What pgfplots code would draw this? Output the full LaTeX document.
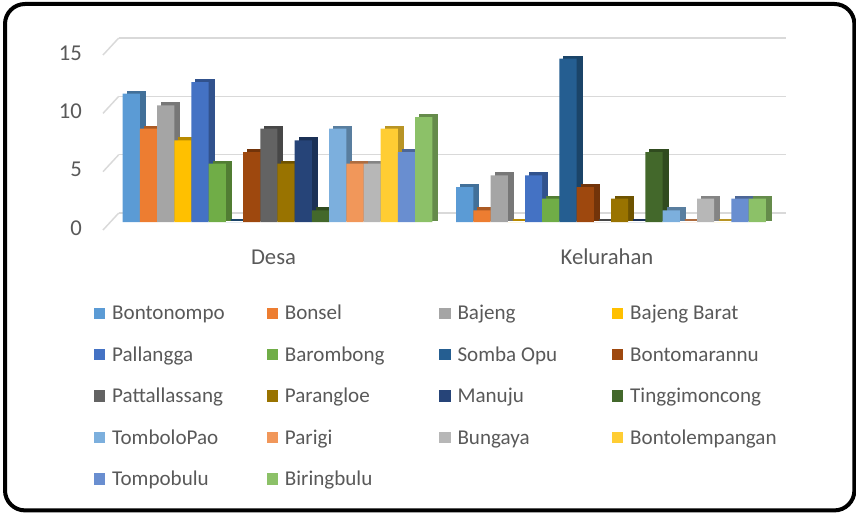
\documentclass[border=0pt]{standalone}
\usepackage{pgfplots}
\pgfplotsset{compat=1.18}
\usepackage{fontspec}
\setmainfont{Carlito}
\definecolor{txt}{HTML}{595959}
\definecolor{gridc}{HTML}{D9D9D9}
\definecolor{c1}{HTML}{5B9BD5}
\definecolor{c2}{HTML}{ED7D31}
\definecolor{c3}{HTML}{A5A5A5}
\definecolor{c4}{HTML}{FFC000}
\definecolor{c5}{HTML}{4472C4}
\definecolor{c6}{HTML}{70AD47}
\definecolor{c7}{HTML}{255E91}
\definecolor{c8}{HTML}{9E480E}
\definecolor{c9}{HTML}{636363}
\definecolor{c10}{HTML}{997300}
\definecolor{c11}{HTML}{264478}
\definecolor{c12}{HTML}{43682B}
\definecolor{c13}{HTML}{7CAFDD}
\definecolor{c14}{HTML}{F1975A}
\definecolor{c15}{HTML}{B7B7B7}
\definecolor{c16}{HTML}{FFCD33}
\definecolor{c17}{HTML}{698ED0}
\definecolor{c18}{HTML}{8CC168}
\pgfplotsset{mylegend/.style={legend image code/.code={\fill[##1,/tikz/.cd] (0pt,0.8pt) rectangle (8.4pt,9.2pt);}}}
% #1 shift index, #2 colour, #3 Desa, #4 Kelurahan, #5 name
\newcommand\drawseries[5]{%
  \addplot[ybar, bar width=12.9pt, bar shift={#1*12.9pt+3.75pt}, yshift=1.5pt,
    fill=#2!72!black, draw=#2!72!black, line width=1.5pt, forget plot] coordinates {(0,#3) (1,#4)};
  \addplot[ybar, bar width=12.9pt, bar shift={#1*12.9pt}, fill=#2, draw=none, mylegend]
    coordinates {(0,#3) (1,#4)};
  \addlegendentry{\makebox[115.85pt][l]{\strut #5}}%
}
\begin{document}
\begin{tikzpicture}
\useasboundingbox (0,0) rectangle (642pt,384pt);
\draw[line width=3pt, rounded corners=15pt] (3.75pt,1.2pt) rectangle (640.8pt,381pt);
\begin{axis}[
  at={(83.06pt,217.5pt)}, anchor=south west,
  scale only axis, width=500.25pt, height=131.25pt,
  xmin=-0.5, xmax=1.5, ymin=0, ymax=15,
  axis x line*=bottom, axis y line*=left,
  axis line style={draw=none},
  xtick={0,1}, xticklabels={Desa,Kelurahan},
  ytick={0,5,10,15},
  ymajorgrids,
  major grid style={gridc, line width=1.1pt, xshift=6pt, yshift=6.75pt},
  tick style={draw=none},
  major tick length=0pt,
  /pgf/number format/assume math mode=true,
  yticklabel style={anchor=east, inner sep=0pt, xshift=-21.5pt, yshift=-4.5pt,
    font=\fontsize{17}{20}\selectfont, text=txt},
  xticklabel style={anchor=center, inner sep=0pt, yshift=-26.25pt, xshift=-3pt,
    font=\fontsize{17}{20}\selectfont, text=txt},
  legend columns=4,
  legend style={at={(-0.0251,-0.4575)}, anchor=north west, draw=none, fill=none,
    inner sep=0pt, outer sep=0pt, column sep=0pt, row sep=16.3pt,
    /tikz/every odd column/.append style={column sep=5.25pt},
    nodes={inner sep=0pt, anchor=base west},
    font=\fontsize{15.8}{19}\selectfont, text=txt},
  clip=false,
]
\pgfplotsinvokeforeach{0,5,10,15}{%
  \draw[gridc, line width=1.1pt] ([xshift=-5.8pt,yshift=-6pt]axis cs:-0.5,#1) -- ([xshift=6pt,yshift=6.75pt]axis cs:-0.5,#1);
}
\drawseries{-8.5}{c1}{11}{3}{Bontonompo}
\drawseries{-7.5}{c2}{8}{1}{Bonsel}
\drawseries{-6.5}{c3}{10}{4}{Bajeng}
\drawseries{-5.5}{c4}{7}{0}{Bajeng Barat}
\drawseries{-4.5}{c5}{12}{4}{Pallangga}
\drawseries{-3.5}{c6}{5}{2}{Barombong}
\drawseries{-2.5}{c7}{0}{14}{Somba Opu}
\drawseries{-1.5}{c8}{6}{3}{Bontomarannu}
\drawseries{-0.5}{c9}{8}{0}{Pattallassang}
\drawseries{0.5}{c10}{5}{2}{Parangloe}
\drawseries{1.5}{c11}{7}{0}{Manuju}
\drawseries{2.5}{c12}{1}{6}{Tinggimoncong}
\drawseries{3.5}{c13}{8}{1}{TomboloPao}
\drawseries{4.5}{c14}{5}{0}{Parigi}
\drawseries{5.5}{c15}{5}{2}{Bungaya}
\drawseries{6.5}{c16}{8}{0}{Bontolempangan}
\drawseries{7.5}{c17}{6}{2}{Tompobulu}
\drawseries{8.5}{c18}{9}{2}{Biringbulu}
\end{axis}
\end{tikzpicture}
\end{document}
